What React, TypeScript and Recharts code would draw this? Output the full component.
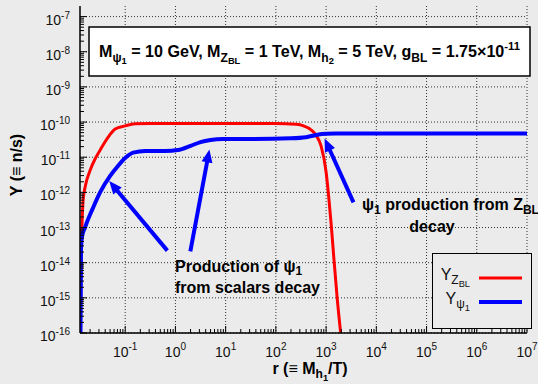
import React from "react";
import {
  LineChart,
  Line,
  XAxis,
  YAxis,
  CartesianGrid,
  ReferenceLine,
  Legend,
} from "recharts";

const W = 538;
const H = 384;
const FONT = '"Liberation Sans", Arial, Helvetica, sans-serif';
const BG = "#ebebeb";
const RED = "#ff0000";
const BLUE = "#0000ff";

// r (= M_h1 / T) and Y_ZBL
const redR = [
  0.01274, 0.01303, 0.01334, 0.0138, 0.01452, 0.01622, 0.01995, 0.0251,
  0.0316, 0.0447, 0.0631, 0.1, 0.158, 0.316, 10, 100, 251, 355, 501, 631,
  794, 1000, 1122, 1259, 1413, 1660, 1950,
];
const redY = [
  1e-16, 3.2e-15, 3.2e-14, 1.26e-13, 6e-13, 1.6e-12, 4.2e-12, 8.9e-12,
  1.58e-11, 3.55e-11, 6.3e-11, 7.8e-11, 8.9e-11, 9.1e-11, 9.1e-11, 9.1e-11,
  8.6e-11, 7.8e-11, 6e-11, 4.2e-11, 2.1e-11, 3.8e-12, 8e-13, 1.3e-13,
  1.6e-14, 1e-15, 1e-16,
];

// r and Y_psi1
const blueR = [
  0.01288, 0.01303, 0.01318, 0.0138, 0.01585, 0.01718, 0.0224, 0.0316,
  0.0501, 0.0708, 0.1, 0.1445, 0.251, 0.631, 1.12, 2.0, 3.16, 5.0, 8.9, 31.6,
  200, 398, 631, 1000, 1585, 1e7,
];
const blueY = [
  1e-16, 1e-15, 2.5e-14, 5.5e-14, 1e-13, 1.38e-13, 3.4e-13, 1e-12,
  2.95e-12, 5.5e-12, 9.5e-12, 1.35e-11, 1.5e-11, 1.5e-11, 1.6e-11, 2.1e-11,
  2.7e-11, 3.1e-11, 3.3e-11, 3.3e-11, 3.45e-11, 3.7e-11, 4.3e-11, 4.65e-11,
  4.7e-11, 4.7e-11,
];

// arrows: [tail, head] in data units
const arrow1R = [0.69, 0.048];
const arrow1Y = [2.2e-14, 2.1e-12];
const arrow2R = [1.98, 4.75];
const arrow2Y = [2.1e-14, 1.66e-11];
const arrow3R = [3510, 933];
const arrow3Y = [5.2e-13, 3.4e-11];

const xMajor = [1e-1, 1, 10, 1e2, 1e3, 1e4, 1e5, 1e6, 1e7];
const yMajor = [1e-16, 1e-15, 1e-14, 1e-13, 1e-12, 1e-11, 1e-10, 1e-9, 1e-8, 1e-7];
const xDomain = [Math.pow(10, -1.9), 1e7];
const yDomain = [1e-16, 2e-7];

const minorTicks = (lo: number, hi: number, decades: number[]) => {
  const out: number[] = [];
  decades.forEach((d) => {
    for (let k = 2; k <= 9; k++) {
      const v = k * d;
      if (v > lo && v < hi) out.push(v);
    }
  });
  return out;
};

const xTicks = [
  ...xMajor,
  ...minorTicks(xDomain[0], xDomain[1], [1e-2, ...xMajor]),
].sort((a, b) => a - b);
const yTicks = [
  ...yMajor,
  ...minorTicks(yDomain[0], yDomain[1], yMajor),
].sort((a, b) => a - b);

const redData = redR.map((r, i) => ({ r, y: redY[i] }));
const blueData = blueR.map((r, i) => ({ r, y: blueY[i] }));

const isMajor = (v: number) =>
  Math.abs(Math.log10(v) - Math.round(Math.log10(v))) < 1e-6;
const expOf = (v: number) => Math.round(Math.log10(v));

type Part = [string, number];
// level -> [font scale, baseline shift in em]
const LEVELS: Record<number, [number, number]> = {
  0: [1, 0],
  1: [0.7, -0.42],
  [-1]: [0.75, 0.28],
  [-2]: [0.58, 0.46],
  [-3]: [0.75, 0.2],
};

function rich(parts: Part[], size: number) {
  let prev = 0;
  return parts.map(([t, lv], i) => {
    const [sc, off] = LEVELS[lv];
    const shift = off * size;
    const dy = shift - prev;
    prev = shift;
    return (
      <tspan key={i} dy={dy} fontSize={sc * size}>
        {t}
      </tspan>
    );
  });
}

const BottomTick = ({ x, y, payload }: any) => {
  const v = payload.value;
  const major = isMajor(v);
  return (
    <g>
      <line x1={x} x2={x} y1={y} y2={y - (major ? 7 : 4)} stroke="#000" />
      {major && (
        <text x={x} y={y + 24} textAnchor="middle" fontSize={14} fontFamily={FONT} fill="#111">
          10
          <tspan dy={-7} fontSize={10}>
            {expOf(v)}
          </tspan>
        </text>
      )}
    </g>
  );
};

const TopTick = ({ x, y, payload }: any) => (
  <line x1={x} x2={x} y1={y} y2={y + (isMajor(payload.value) ? 7 : 4)} stroke="#000" />
);

const LeftTick = ({ x, y, payload }: any) => {
  const v = payload.value;
  const major = isMajor(v);
  return (
    <g>
      <line x1={x} x2={x + (major ? 7 : 4)} y1={y} y2={y} stroke="#000" />
      {major && (
        <text x={x - 10} y={y + 8} textAnchor="end" fontSize={14} fontFamily={FONT} fill="#111">
          10
          <tspan dy={-6} fontSize={10}>
            {expOf(v)}
          </tspan>
        </text>
      )}
    </g>
  );
};

const RightTick = ({ x, y, payload }: any) => (
  <line x1={x} x2={x - (isMajor(payload.value) ? 7 : 4)} y1={y} y2={y} stroke="#000" />
);

const Arrow = (p: any) => {
  const { x1, y1, x2, y2 } = p;
  const dx = x2 - x1;
  const dy = y2 - y1;
  const L = Math.hypot(dx, dy) || 1;
  const ux = dx / L;
  const uy = dy / L;
  const hl = 13;
  const hw = 5.5;
  const bx = x2 - ux * hl;
  const by = y2 - uy * hl;
  const pts = `${x2},${y2} ${bx - uy * hw},${by + ux * hw} ${bx + uy * hw},${by - ux * hw}`;
  return (
    <g>
      <line x1={x1} y1={y1} x2={bx + ux * 2} y2={by + uy * 2} stroke={BLUE} strokeWidth={4} />
      <polygon points={pts} fill={BLUE} />
    </g>
  );
};

const legendLabels: Record<string, Part[]> = {
  Y_ZBL: [["Y", 0], ["Z", -1], ["BL", -2]],
  Y_psi1: [["Y", 0], ["ψ", -1], ["1", -2]],
};

const LegendBox = ({ payload }: any) => (
  <svg width={100} height={76} style={{ display: "block" }}>
    <rect x={0.5} y={0.5} width={99} height={75} fill={BG} stroke="#000" strokeWidth={1} />
    {(payload || []).map((e: any, i: number) => (
      <g key={i}>
        <text
          x={38}
          y={27 + i * 24}
          textAnchor="end"
          fontSize={16}
          fontFamily={FONT}
          fill="#111"
        >
          {rich(legendLabels[e.value] || [[String(e.value), 0]], 16)}
        </text>
        <line
          x1={47}
          x2={90}
          y1={25 + i * 24}
          y2={25 + i * 24}
          stroke={e.color}
          strokeWidth={i === 0 ? 3 : 4}
        />
      </g>
    ))}
  </svg>
);

const titleParts: Part[] = [
  ["M", 0], ["ψ", -1], ["1", -2],
  [" = 10 GeV, M", 0], ["Z", -1], ["BL", -2],
  [" = 1 TeV, M", 0], ["h", -1], ["2", -2],
  [" = 5 TeV, g", 0], ["BL", -1],
  [" = 1.75×10", 0], ["-11", 1],
];

export default function App() {
  return (
    <div style={{ position: "absolute", left: 0, top: 0, width: W, height: H, background: BG }}>
      <LineChart width={W} height={H} margin={{ top: 6, right: 11, bottom: 0, left: 10 }}>
        <CartesianGrid
          verticalValues={xMajor}
          horizontalValues={yMajor}
          stroke="#333"
          strokeDasharray="1 2"
        />
        <XAxis
          dataKey="r"
          type="number"
          scale="log"
          domain={xDomain}
          allowDataOverflow
          ticks={xTicks}
          interval={0}
          height={51}
          tickSize={0}
          tickMargin={0}
          tickLine={false}
          tick={<BottomTick />}
          axisLine={{ stroke: "#000", strokeWidth: 1.5 }}
        />
        <XAxis
          xAxisId="top"
          orientation="top"
          dataKey="r"
          type="number"
          scale="log"
          domain={xDomain}
          allowDataOverflow
          ticks={xTicks}
          interval={0}
          height={0}
          tickSize={0}
          tickMargin={0}
          tickLine={false}
          tick={<TopTick />}
          axisLine={{ stroke: "#000", strokeWidth: 1.5 }}
        />
        <YAxis
          type="number"
          scale="log"
          domain={yDomain}
          allowDataOverflow
          ticks={yTicks}
          interval={0}
          width={70}
          tickSize={0}
          tickMargin={0}
          tickLine={false}
          tick={<LeftTick />}
          axisLine={{ stroke: "#000", strokeWidth: 1.5 }}
        />
        <YAxis
          yAxisId="right"
          orientation="right"
          type="number"
          scale="log"
          domain={yDomain}
          allowDataOverflow
          ticks={yTicks}
          interval={0}
          width={0}
          tickSize={0}
          tickMargin={0}
          tickLine={false}
          tick={<RightTick />}
          axisLine={{ stroke: "#000", strokeWidth: 1.5 }}
        />
        <Line
          data={redData}
          dataKey="y"
          name="Y_ZBL"
          type="monotone"
          stroke={RED}
          strokeWidth={3}
          dot={false}
          activeDot={false}
          isAnimationActive={false}
        />
        <Line
          data={blueData}
          dataKey="y"
          name="Y_psi1"
          type="monotone"
          stroke={BLUE}
          strokeWidth={4}
          dot={false}
          activeDot={false}
          isAnimationActive={false}
        />
        <ReferenceLine
          segment={[{ x: arrow1R[0], y: arrow1Y[0] }, { x: arrow1R[1], y: arrow1Y[1] }]}
          shape={Arrow}
          ifOverflow="visible"
        />
        <ReferenceLine
          segment={[{ x: arrow2R[0], y: arrow2Y[0] }, { x: arrow2R[1], y: arrow2Y[1] }]}
          shape={Arrow}
          ifOverflow="visible"
        />
        <ReferenceLine
          segment={[{ x: arrow3R[0], y: arrow3Y[0] }, { x: arrow3R[1], y: arrow3Y[1] }]}
          shape={Arrow}
          ifOverflow="visible"
        />
        <Legend
          layout="horizontal"
          verticalAlign="middle"
          align="center"
          content={<LegendBox />}
          wrapperStyle={{ left: 432, top: 253, width: 100, height: 76 }}
        />
      </LineChart>
      <svg
        width={W}
        height={H}
        style={{ position: "absolute", left: 0, top: 0, pointerEvents: "none" }}
      >
        <rect x={89} y={27} width={441} height={49} fill="#fff" stroke="#000" strokeWidth={1.5} />
        <text x={99} y={57} fontSize={16.1} fontWeight="bold" fontFamily={FONT} fill="#000">
          {rich(titleParts, 16.1)}
        </text>
        <text x={175} y={271.5} fontSize={16} fontWeight="bold" fontFamily={FONT} fill="#000">
          {rich([["Production of ψ", 0], ["1", -3]], 16)}
        </text>
        <text x={175} y={292.5} fontSize={16} fontWeight="bold" fontFamily={FONT} fill="#000">
          from scalars decay
        </text>
        <text x={362} y={210} fontSize={16} fontWeight="bold" fontFamily={FONT} fill="#000">
          {rich([["ψ", 0], ["1", -1], [" production from Z", 0], ["BL", -1]], 16)}
        </text>
        <text x={432} y={232} textAnchor="middle" fontSize={16} fontWeight="bold" fontFamily={FONT} fill="#000">
          decay
        </text>
        <text x={310} y={374} textAnchor="middle" fontSize={16} fontWeight="bold" fontFamily={FONT} fill="#000">
          {rich([["r (≡ M", 0], ["h", -1], ["1", -2], ["/T)", 0]], 16)}
        </text>
        <text
          transform="translate(22,165) rotate(-90)"
          textAnchor="middle"
          fontSize={16}
          fontWeight="bold"
          fontFamily={FONT}
          fill="#000"
        >
          Y (≡ n/s)
        </text>
      </svg>
    </div>
  );
}
